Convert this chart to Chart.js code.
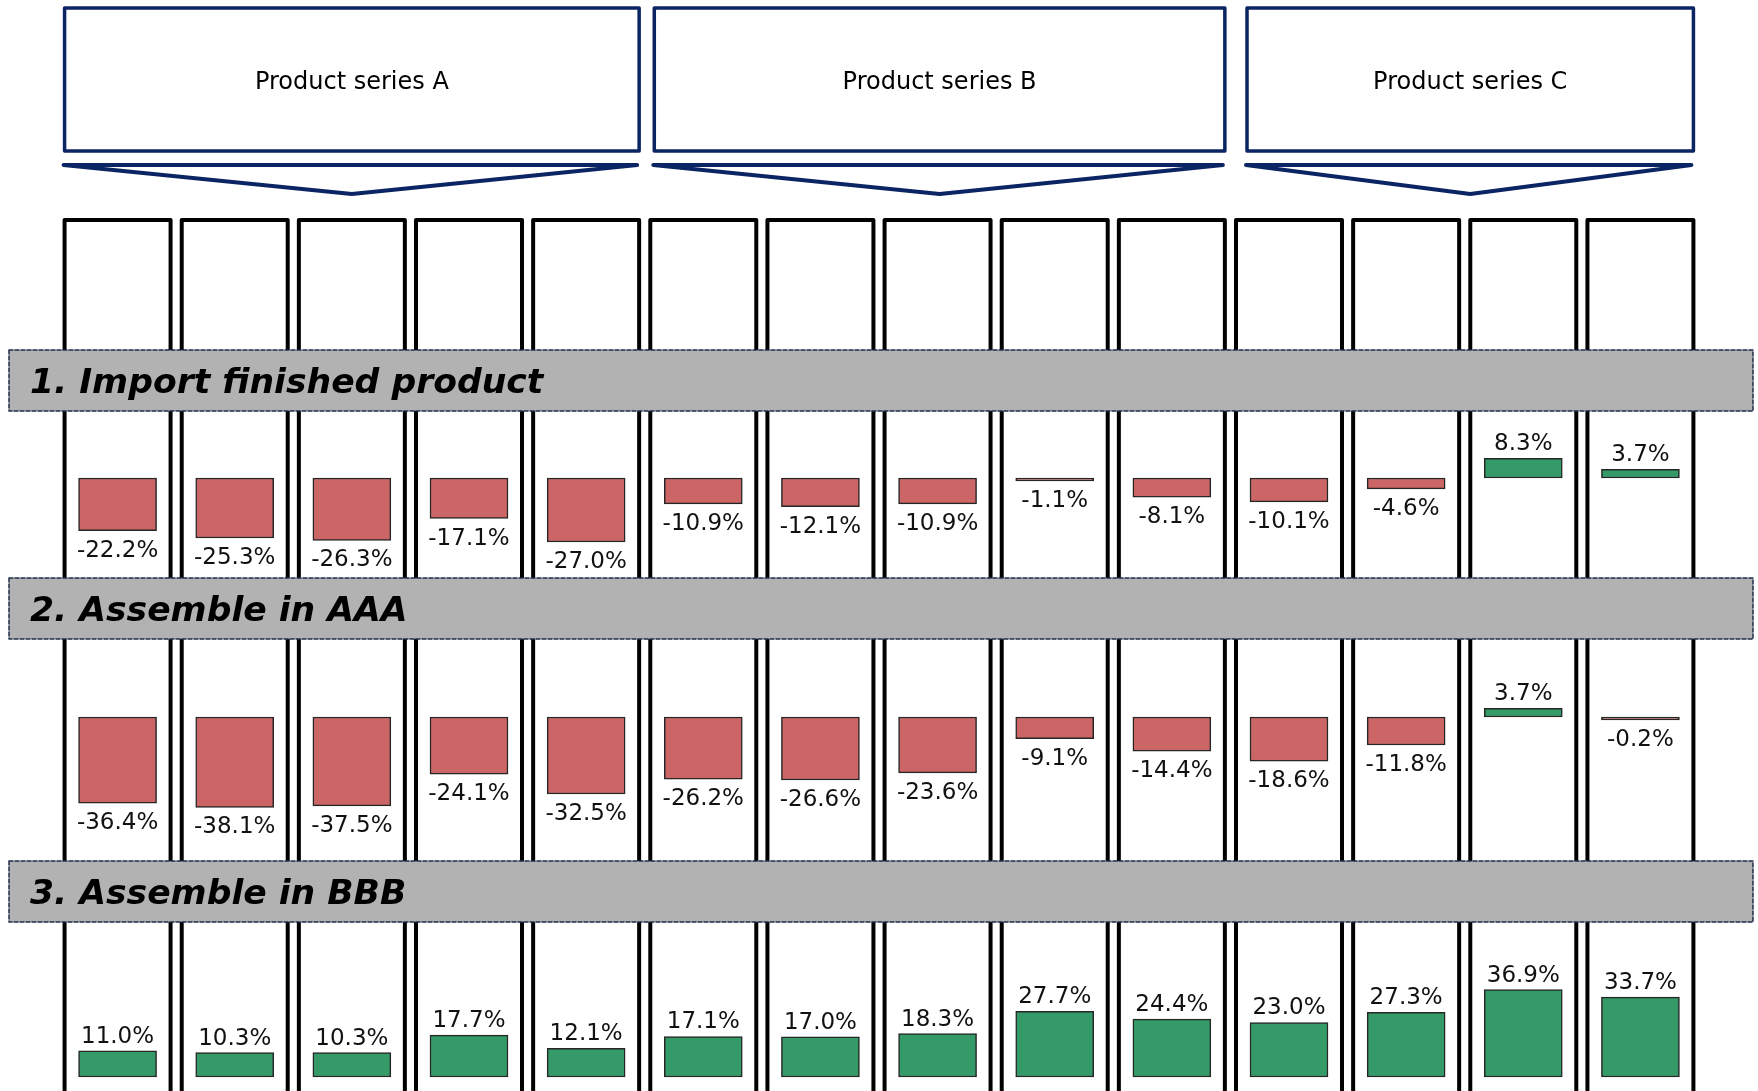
<!DOCTYPE html>
<html>
<head>
<meta charset="utf-8">
<title>Cost difference by sourcing option</title>
<script src="https://cdn.jsdelivr.net/npm/chart.js@4.4.1/dist/chart.umd.min.js"></script>
<style>
  html, body { margin: 0; padding: 0; background: #fff; }
  #wrap { width: 1758px; height: 1091px; }
</style>
</head>
<body>
<div id="wrap"><canvas id="chart" width="1758" height="1091"></canvas></div>
<script>
// data
const products = ["A1", "A2", "A3", "A4", "A5", "B1", "B2", "B3", "B4", "B5", "C1", "C2", "C3", "C4"];
const seriesNames = ["Product series A", "Product series B", "Product series C"];
const seriesSizes = [5, 5, 4];
const rowNames = ["1. Import finished product", "2. Assemble in AAA", "3. Assemble in BBB"];
const importFinished = [-22.2, -25.3, -26.3, -17.1, -27.0, -10.9, -12.1, -10.9, -1.1, -8.1, -10.1, -4.6, 8.3, 3.7];
const assembleAAA = [-36.4, -38.1, -37.5, -24.1, -32.5, -26.2, -26.6, -23.6, -9.1, -14.4, -18.6, -11.8, 3.7, -0.2];
const assembleBBB = [11.0, 10.3, 10.3, 17.7, 12.1, 17.1, 17.0, 18.3, 27.7, 24.4, 23.0, 27.3, 36.9, 33.7];

// layout
const W = 1758, H = 1091;
const PX_PER_PCT = 2.37;
const ROW_ZERO_Y = [478, 717, 1077];
const BAND_TOP = [350, 578, 861];
const BAND_H = 61;
const COL_TOP = 220;
const COL_W = 106;
const BOX_TOP = 8, BOX_BOTTOM = 151;
const BOX_INSET = [2, 6, 13];
const CHEVRON_TOP = 165, CHEVRON_TIP = 194;

const RED = "#CC6565";
const GREEN = "#349A68";
const NAVY = "#0B2463";

const rows = [importFinished, assembleAAA, assembleBBB];

// each row gets its own hidden y axis, zero placed at ROW_ZERO_Y
const yRange = (zeroY) => {
  const max = zeroY / PX_PER_PCT;
  return { min: max - H / PX_PER_PCT, max: max };
};

const scales = {
  x: { type: "category", labels: products, offset: true, display: false, grid: { display: false } }
};
rows.forEach((r, i) => {
  const rg = yRange(ROW_ZERO_Y[i]);
  scales["y" + i] = { type: "linear", min: rg.min, max: rg.max, display: false, grid: { display: false } };
});

const backdrop = {
  id: "backdrop",
  beforeDatasetsDraw(chart) {
    const ctx = chart.ctx;
    const x = chart.scales.x;
    ctx.save();

    // product columns
    ctx.strokeStyle = "#000";
    ctx.lineWidth = 4;
    ctx.lineJoin = "round";
    products.forEach((p, i) => {
      const cx = x.getPixelForValue(i);
      ctx.beginPath();
      ctx.moveTo(cx - COL_W / 2, H + 10);
      ctx.lineTo(cx - COL_W / 2, COL_TOP);
      ctx.lineTo(cx + COL_W / 2, COL_TOP);
      ctx.lineTo(cx + COL_W / 2, H + 10);
      ctx.stroke();
    });

    // series header boxes and chevrons
    let start = 0;
    seriesNames.forEach((name, g) => {
      const end = start + seriesSizes[g] - 1;
      const l = x.getPixelForValue(start) - COL_W / 2 - 2 + BOX_INSET[g];
      const r = x.getPixelForValue(end) + COL_W / 2;
      ctx.strokeStyle = NAVY;
      ctx.lineWidth = 3.5;
      ctx.lineJoin = "round";
      ctx.strokeRect(l, BOX_TOP, r - l, BOX_BOTTOM - BOX_TOP);

      ctx.lineWidth = 4;
      ctx.lineCap = "round";
      ctx.beginPath();
      ctx.moveTo(l - 1, CHEVRON_TOP);
      ctx.lineTo(r - 2, CHEVRON_TOP);
      ctx.lineTo((l + r) / 2, CHEVRON_TIP);
      ctx.closePath();
      ctx.stroke();

      ctx.fillStyle = "#000";
      ctx.font = '24px "DejaVu Sans"';
      ctx.textAlign = "center";
      ctx.textBaseline = "alphabetic";
      ctx.fillText(name, (l + r) / 2, 89);
      start = end + 1;
    });

    // option bands
    rowNames.forEach((name, i) => {
      const top = BAND_TOP[i];
      ctx.fillStyle = "#B2B2B2";
      ctx.fillRect(9, top, W - 5 - 9, BAND_H);
      ctx.setLineDash([4, 2]);
      ctx.lineWidth = 1.5;
      ctx.strokeStyle = "#1F2E48";
      ctx.strokeRect(9, top, W - 5 - 9, BAND_H);
      ctx.setLineDash([]);
      ctx.fillStyle = "#000";
      ctx.font = 'italic bold 34.6px "DejaVu Sans"';
      ctx.textAlign = "left";
      ctx.textBaseline = "alphabetic";
      ctx.fillText(name, 30, top + 43);
    });
    ctx.restore();
  },
  afterDatasetsDraw(chart) {
    const ctx = chart.ctx;
    ctx.save();
    ctx.font = '23px "DejaVu Sans"';
    ctx.fillStyle = "#111";
    ctx.textAlign = "center";
    ctx.textBaseline = "alphabetic";
    chart.data.datasets.forEach((ds, di) => {
      const meta = chart.getDatasetMeta(di);
      meta.data.forEach((bar, i) => {
        const v = ds.data[i];
        const txt = v.toFixed(1) + "%";
        if (v < 0) {
          ctx.fillText(txt, bar.x, Math.max(bar.y, bar.base) + 26);
        } else {
          ctx.fillText(txt, bar.x, Math.min(bar.y, bar.base) - 8);
        }
      });
    });
    ctx.restore();
  }
};

new Chart(document.getElementById("chart").getContext("2d"), {
  type: "bar",
  data: {
    labels: products,
    datasets: rows.map((vals, r) => ({
      label: rowNames[r],
      data: vals,
      yAxisID: "y" + r,
      backgroundColor: vals.map(v => v < 0 ? RED : GREEN),
      borderColor: "#262626",
      borderWidth: 1.5,
      borderSkipped: false,
      minBarLength: 3,
      barThickness: 78,
      grouped: false
    }))
  },
  options: {
    responsive: false,
    animation: false,
    devicePixelRatio: 1,
    layout: { padding: { left: 59, right: 59, top: 0, bottom: 0 } },
    scales: scales,
    plugins: {
      legend: { display: false },
      title: { display: false },
      tooltip: { enabled: false }
    }
  },
  plugins: [backdrop]
});
</script>
</body>
</html>
